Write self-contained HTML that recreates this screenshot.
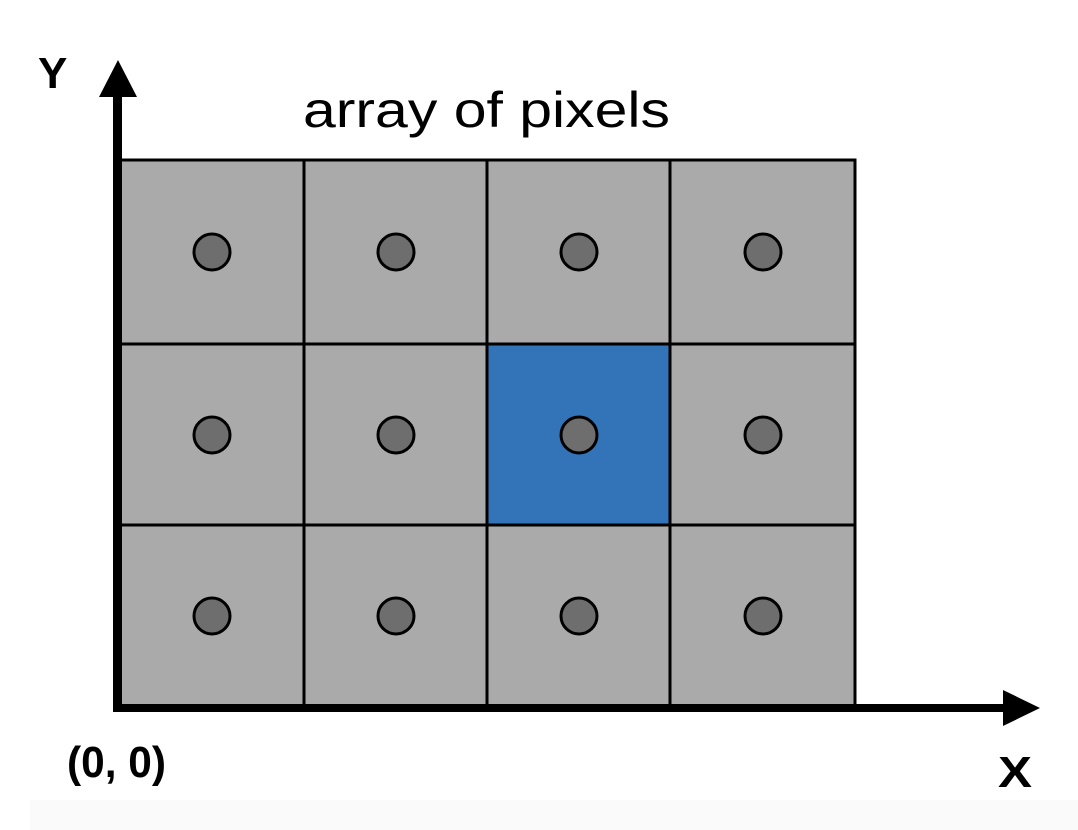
<!DOCTYPE html>
<html><head><style>
html,body{margin:0;padding:0;background:#fff;}
body{width:1078px;height:830px;overflow:hidden;position:relative;}
</style></head><body>
<svg width="1078" height="830" xmlns="http://www.w3.org/2000/svg" style="position:absolute;left:0;top:0">
<rect x="30" y="800" width="1048" height="30" fill="#fafafa"/>
<g stroke="#000" stroke-width="3">
<rect x="120" y="160" width="184" height="184" fill="#aaaaaa"/>
<rect x="304" y="160" width="183" height="184" fill="#aaaaaa"/>
<rect x="487" y="160" width="183" height="184" fill="#aaaaaa"/>
<rect x="670" y="160" width="185" height="184" fill="#aaaaaa"/>
<rect x="120" y="344" width="184" height="181" fill="#aaaaaa"/>
<rect x="304" y="344" width="183" height="181" fill="#aaaaaa"/>
<rect x="487" y="344" width="183" height="181" fill="#3373b7"/>
<rect x="670" y="344" width="185" height="181" fill="#aaaaaa"/>
<rect x="120" y="525" width="184" height="182" fill="#aaaaaa"/>
<rect x="304" y="525" width="183" height="182" fill="#aaaaaa"/>
<rect x="487" y="525" width="183" height="182" fill="#aaaaaa"/>
<rect x="670" y="525" width="185" height="182" fill="#aaaaaa"/>
</g>
<g fill="#6e6e6e" stroke="#000" stroke-width="3">
<circle cx="212" cy="252" r="18"/><circle cx="396" cy="252" r="18"/><circle cx="579" cy="252" r="18"/><circle cx="763" cy="252" r="18"/>
<circle cx="212" cy="435" r="18"/><circle cx="396" cy="435" r="18"/><circle cx="579" cy="435" r="18"/><circle cx="763" cy="435" r="18"/>
<circle cx="212" cy="616" r="18"/><circle cx="396" cy="616" r="18"/><circle cx="579" cy="616" r="18"/><circle cx="763" cy="616" r="18"/>
</g>
<rect x="113" y="95" width="9" height="617" fill="#000"/>
<polygon points="118,60 99,97 137,97" fill="#000"/>
<rect x="113" y="704" width="895" height="8" fill="#000"/>
<polygon points="1040,708 1003,690 1003,726" fill="#000"/>
<text x="303" y="127" font-family="Liberation Sans, sans-serif" font-size="50" fill="#000" textLength="367" lengthAdjust="spacingAndGlyphs">array of pixels</text>
<text x="38" y="88" font-family="Liberation Sans, sans-serif" font-size="44" font-weight="bold" fill="#000">Y</text>
<text x="67" y="777" font-family="Liberation Sans, sans-serif" font-size="44" font-weight="bold" fill="#000" textLength="99" lengthAdjust="spacingAndGlyphs">(0, 0)</text>
<text x="998" y="787" font-family="Liberation Sans, sans-serif" font-size="44" font-weight="bold" fill="#000" textLength="34" lengthAdjust="spacingAndGlyphs">X</text>
</svg>
</body></html>
